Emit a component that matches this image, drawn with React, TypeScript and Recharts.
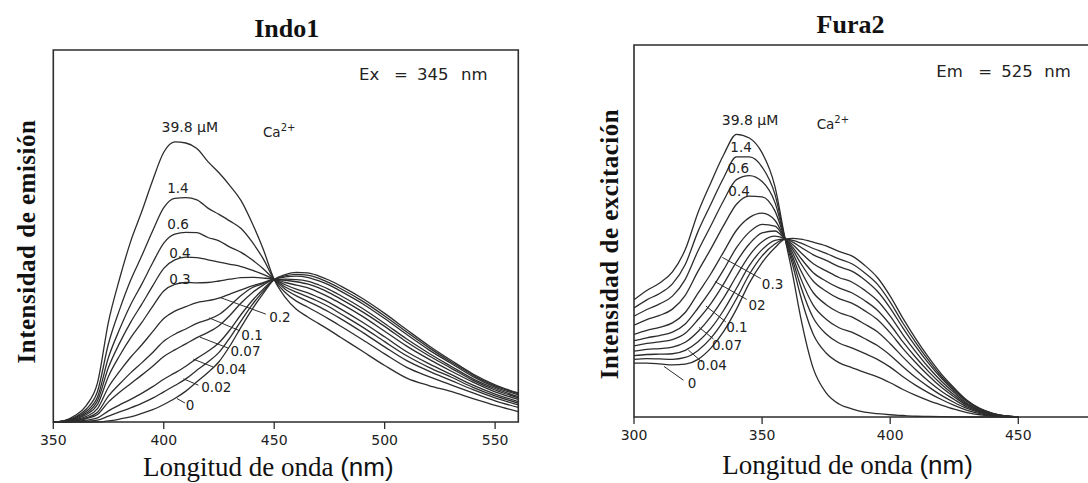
import React from 'react';
import { LineChart, Line, XAxis, YAxis, ReferenceArea, ReferenceLine, ReferenceDot } from 'recharts';

// Indo-1 emission spectra, Ex = 345 nm (relative intensity, 0-100)
const indoWavelengths = [350, 355, 360, 365, 370, 375, 380, 385, 390, 395, 400, 405, 410, 415, 420, 425, 430, 435, 440, 445, 450, 455, 460, 465, 470, 475, 480, 490, 500, 510, 520, 530, 540, 550, 560.5];
const indoTicks = [350, 400, 450, 500, 550];

const indoCa398 = [0, 0.4, 1.8, 4.5, 10.5, 27, 38.5, 48.5, 56.5, 65, 72.5, 75.3, 75, 73.5, 70, 67, 63.5, 59.5, 53.5, 46.5, 38.3, 33.5, 30.3, 28.3, 26.5, 24.7, 22.8, 19, 15.2, 11.8, 9.8, 8.2, 6.3, 4.5, 2.8];
const indoCa14 = [0, 0.3, 1.4, 3.5, 8.2, 21.1, 30.2, 38.1, 44.6, 51.4, 57.6, 60.1, 60.3, 59.7, 57.5, 55.8, 54, 52, 48.4, 43.9, 38.3, 34.8, 32.5, 30.9, 29.3, 27.6, 25.8, 22.1, 18.3, 14.7, 12.2, 10, 7.8, 5.7, 3.9];
const indoCa06 = [0, 0.3, 1.2, 2.9, 6.7, 17.4, 24.9, 31.5, 37, 42.8, 48.1, 50.5, 51, 50.9, 49.6, 48.7, 47, 45.6, 43.6, 41.2, 38.3, 35.7, 33.9, 32.5, 31.1, 29.5, 27.8, 24.1, 20.2, 16.5, 13.7, 11.2, 8.7, 6.5, 4.6];
const indoCa04 = [0, 0.2, 1, 2.4, 5.7, 14.7, 21.2, 26.8, 31.6, 36.6, 41.3, 43.6, 44.3, 44.2, 43.6, 43, 42.4, 41.8, 40.8, 39.7, 38.3, 36.3, 34.9, 33.7, 32.4, 30.9, 29.1, 25.5, 21.6, 17.8, 14.7, 12.1, 9.3, 7, 5.1];
const indoCa03 = [0, 0.2, 0.8, 2, 4.7, 12.3, 17.8, 22.6, 26.7, 31.1, 35.2, 37, 37.5, 37.4, 37.5, 37.9, 38.4, 38.8, 38.9, 38.7, 38.3, 36.9, 35.7, 34.8, 33.5, 32.1, 30.4, 26.8, 22.9, 18.9, 15.7, 12.8, 9.9, 7.5, 5.5];
const indoCa02 = [0, 0.1, 0.6, 1.5, 3.6, 9.4, 13.6, 17.4, 20.7, 24.3, 27.8, 29.8, 31, 32.1, 32.6, 33.3, 34.4, 35.5, 36.6, 37.5, 38.3, 37.5, 36.8, 36.1, 34.9, 33.5, 31.9, 28.4, 24.4, 20.4, 16.9, 13.7, 10.7, 8.1, 6.1];
const indoCa01 = [0, 0.1, 0.5, 1.1, 2.6, 7, 10.2, 13.2, 15.9, 18.7, 21.7, 23.6, 25, 26.5, 27.5, 28.9, 31.3, 34, 36.1, 37.2, 38.3, 38.1, 37.7, 37.1, 36.1, 34.7, 33.1, 29.6, 25.7, 21.5, 17.8, 14.5, 11.2, 8.6, 6.5];
const indoCa007 = [0, 0.1, 0.3, 0.9, 2, 5.4, 8, 10.3, 12.6, 15, 17.6, 19.4, 21, 22.7, 24.1, 25.9, 28.7, 32, 34.7, 36.8, 38.3, 38.4, 38.3, 37.9, 36.9, 35.6, 34, 30.5, 26.5, 22.3, 18.5, 15, 11.6, 9, 6.8];
const indoCa004 = [0, 0, 0.2, 0.5, 1.1, 3, 4.6, 6.1, 7.7, 9.5, 11.5, 13.2, 15, 17.1, 19, 21.3, 24.8, 28.9, 32.6, 35.7, 38.3, 39, 39.2, 38.9, 38, 36.8, 35.2, 31.8, 27.8, 23.5, 19.4, 15.8, 12.2, 9.4, 7.3];
const indoCa002 = [0, 0, 0.1, 0.2, 0.5, 1.6, 2.7, 3.8, 5, 6.4, 8.1, 9.8, 11.6, 13.9, 16.1, 18.7, 22.7, 27.2, 31.5, 35.1, 38.3, 39.3, 39.7, 39.5, 38.7, 37.4, 35.9, 32.5, 28.5, 24.2, 20, 16.2, 12.6, 9.7, 7.6];
const indoCa0 = [0, 0, 0, 0, 0, 0.3, 0.8, 1.4, 2.3, 3.3, 4.7, 6.3, 8.3, 10.8, 13.3, 16.2, 20.5, 25.5, 30.3, 34.5, 38.3, 39.6, 40.2, 40.1, 39.3, 38.1, 36.6, 33.2, 29.2, 24.8, 20.5, 16.6, 12.9, 10, 7.8];

// Fura-2 excitation spectra, Em = 525 nm
const furaWavelengths = [300, 305, 310, 315, 320, 325, 330, 335, 340, 345, 350, 355, 359, 362, 365, 370, 375, 380, 385, 390, 395, 400, 405, 410, 415, 420, 425, 430, 435, 440, 445, 450];
const furaTicks = [300, 350, 400, 450];

const furaCa398 = [31.5, 34, 36, 39, 45, 55, 63, 70.5, 76, 75, 71, 62, 47.8, 38, 27, 13, 6.5, 3.5, 2.2, 1.3, 0.9, 0.6, 0.4, 0.2, 0.15, 0.1, 0.05, 0, 0, 0, 0, 0];
const furaCa14 = [29.3, 31.5, 33.2, 35.8, 41, 49.9, 57.2, 64.3, 69.9, 69.9, 67.2, 59.9, 47.8, 40.7, 32.6, 22.2, 17.2, 14.6, 13.3, 12, 10.8, 9.2, 7.4, 5.8, 4.4, 3.2, 2.1, 1.2, 0.6, 0.3, 0.1, 0];
const furaCa06 = [27.1, 28.9, 30.4, 32.5, 37, 44.7, 51.4, 58.2, 63.8, 64.9, 63.3, 57.7, 47.8, 42, 35.3, 26.6, 22.3, 19.9, 18.6, 17.1, 15.5, 13.4, 10.8, 8.5, 6.5, 4.7, 3.1, 1.8, 0.9, 0.4, 0.1, 0];
const furaCa04 = [24.7, 26.2, 27.3, 29, 32.7, 39.2, 45.2, 51.5, 57.2, 59.4, 59.2, 55.4, 47.8, 43, 37.4, 30, 26.3, 24, 22.8, 21.1, 19.2, 16.6, 13.5, 10.6, 8.1, 5.8, 3.9, 2.3, 1.2, 0.5, 0.2, 0];
const furaCa03 = [22.2, 23.3, 24.1, 25.3, 28.1, 33.3, 38.5, 44.4, 50.2, 53.6, 54.8, 52.9, 47.8, 44, 39.5, 33.4, 30.2, 28.1, 26.9, 25, 22.9, 19.7, 16.1, 12.7, 9.6, 6.9, 4.7, 2.7, 1.4, 0.6, 0.2, 0];
const furaCa02 = [20.5, 21.3, 21.9, 22.8, 25, 29.3, 34.1, 39.6, 45.5, 49.7, 51.8, 51.3, 47.8, 44.9, 41.4, 36.5, 33.8, 31.8, 30.6, 28.6, 26.2, 22.6, 18.4, 14.6, 11.1, 8, 5.4, 3.1, 1.6, 0.7, 0.2, 0];
const furaCa01 = [19.1, 19.8, 20.2, 20.8, 22.5, 26.2, 30.5, 35.8, 41.7, 46.5, 49.5, 50, 47.8, 45.6, 42.8, 38.8, 36.5, 34.7, 33.4, 31.3, 28.7, 24.8, 20.2, 16, 12.2, 8.8, 5.9, 3.4, 1.7, 0.8, 0.2, 0];
const furaCa007 = [17.7, 18.2, 18.4, 18.8, 20.1, 23, 27, 32, 37.9, 43.4, 47.1, 48.6, 47.8, 46.3, 44.3, 41.2, 39.3, 37.5, 36.3, 34.1, 31.3, 27.1, 22.1, 17.5, 13.3, 9.6, 6.5, 3.7, 1.9, 0.8, 0.2, 0];
const furaCa004 = [16.5, 16.8, 16.9, 17, 17.9, 20.2, 23.8, 28.7, 34.6, 40.7, 45, 47.5, 47.8, 47, 45.7, 43.6, 42.1, 40.4, 39.2, 36.9, 33.8, 29.3, 23.9, 18.9, 14.4, 10.4, 7, 4.1, 2.1, 0.9, 0.3, 0];
const furaCa002 = [15.5, 15.7, 15.6, 15.5, 16, 17.9, 21.2, 25.9, 31.8, 38.3, 43.3, 46.5, 47.8, 47.5, 46.8, 45.3, 44, 42.5, 41.2, 38.8, 35.7, 30.9, 25.2, 20, 15.2, 10.9, 7.4, 4.3, 2.2, 1, 0.3, 0];
const furaCa0 = [14.5, 14.5, 14.3, 14, 14.2, 15.5, 18.5, 23, 29, 36, 41.5, 45.5, 47.8, 48, 47.8, 47, 46, 44.5, 43.3, 40.8, 37.5, 32.5, 26.5, 21, 16, 11.5, 7.8, 4.5, 2.3, 1, 0.3, 0];

const indoSeries = [
  { key: 'c398', values: indoCa398 }, { key: 'c14', values: indoCa14 }, { key: 'c06', values: indoCa06 },
  { key: 'c04', values: indoCa04 }, { key: 'c03', values: indoCa03 }, { key: 'c02', values: indoCa02 },
  { key: 'c01', values: indoCa01 }, { key: 'c007', values: indoCa007 }, { key: 'c004', values: indoCa004 },
  { key: 'c002', values: indoCa002 }, { key: 'c0', values: indoCa0 },
];
const furaSeries = [
  { key: 'c398', values: furaCa398 }, { key: 'c14', values: furaCa14 }, { key: 'c06', values: furaCa06 },
  { key: 'c04', values: furaCa04 }, { key: 'c03', values: furaCa03 }, { key: 'c02', values: furaCa02 },
  { key: 'c01', values: furaCa01 }, { key: 'c007', values: furaCa007 }, { key: 'c004', values: furaCa004 },
  { key: 'c002', values: furaCa002 }, { key: 'c0', values: furaCa0 },
];

// curve labels (text, wavelength, intensity) and leader lines
const indoLabels: [string, number, number][] = [
  ['1.4', 406.4, 62.9], ['0.6', 406.5, 53.2], ['0.4', 407.3, 45.3], ['0.3', 407.3, 38.4],
  ['0.2', 452.6, 28.2], ['0.1', 440, 23.4], ['0.07', 437, 19.1], ['0.04', 430.6, 14.2],
  ['0.02', 423.8, 9.4], ['0', 411.9, 4.6],
];
const indoLeaders: [number, number, number, number][] = [
  [425.4, 33.5, 446.2, 29], [420.5, 28, 434.5, 24.5], [416.4, 22.8, 429.5, 19.8],
  [413.4, 16.9, 422.3, 14.8], [408.9, 11.6, 415.7, 9.9], [406, 6.3, 409.6, 5.1],
];
const furaLabels: [string, number, number][] = [
  ['1.4', 341.8, 72.4], ['0.6', 340.7, 66.9], ['0.4', 341, 60.6], ['0.3', 354.1, 35.6],
  ['02', 348, 30.1], ['0.1', 340.2, 24.2], ['0.07', 336.3, 19.4], ['0.04', 330.4, 14],
  ['0', 322.7, 9.1],
];
const furaLeaders: [number, number, number, number][] = [
  [334.5, 42.9, 349.5, 37.2], [331.6, 36.4, 344, 31.6], [328.1, 29.8, 335.8, 25.6],
  [325.4, 24.1, 331, 21], [321.2, 18, 326.5, 14.8], [311.7, 13.6, 319.3, 9.9],
];

const ink = '#2d2d2d';
const sans = 'DejaVu Sans';
const serif = 'Liberation Serif';

const buildRows = (wl: number[], series: { key: string; values: number[] }[]) =>
  wl.map((nm, i) => {
    const row: Record<string, number> = { nm };
    series.forEach((s) => { row[s.key] = s.values[i]; });
    return row;
  });

const note = (text: string, size = 13.5) =>
  (p: any) => (
    <text x={p.cx} y={p.cy} dy="0.35em" textAnchor="middle" fontFamily={sans} fontSize={size} fill="#222">
      {text}
    </text>
  );

const caNote = (p: any) => (
  <text x={p.cx} y={p.cy} fontFamily={sans} fontSize={13.5} fill="#222">
    Ca<tspan dy={-6} fontSize={10}>2+</tspan>
  </text>
);

// "Ex = 345 nm" style: words laid out with the wide gaps of the original
const condNote = (words: [string, number][]) =>
  (p: any) => (
    <text y={p.cy} fontFamily={sans} fontSize={16.5} fill="#222">
      {words.map(([w, dx]) => (
        <tspan key={w} x={p.cx + dx}>{w}</tspan>
      ))}
    </text>
  );

type PanelProps = {
  wl: number[];
  series: { key: string; values: number[] }[];
  domain: [number, number];
  ticks: number[];
  width: number;
  margin: { top: number; right: number; bottom: number; left: number };
  labels: [string, number, number][];
  leaders: [number, number, number, number][];
  conc: [number, number];
  ca: [number, number];
  cond: { x: number; y: number; words: [string, number][] };
};

function SpectraPanel(props: PanelProps) {
  const { wl, series, domain, ticks, width, margin, labels, leaders, conc, ca, cond } = props;
  const data = buildRows(wl, series);
  return (
    <LineChart width={width} height={483} data={data} margin={margin}>
      <XAxis dataKey="nm" type="number" domain={domain} ticks={ticks} interval={0} allowDataOverflow
        height={30} axisLine={false} tickSize={7} tickMargin={6}
        tickLine={{ stroke: ink, strokeWidth: 1.3 }}
        tick={{ fill: '#222', fontSize: 14, fontFamily: sans }} />
      <YAxis type="number" domain={[0, 100]} hide />
      <ReferenceArea x1={domain[0]} x2={domain[1]} y1={0} y2={100} fill="none" stroke={ink} strokeWidth={1.6} fillOpacity={0} />
      {series.map((s) => (
        <Line key={s.key} dataKey={s.key} type="monotone" stroke={ink} strokeWidth={1.3}
          dot={false} activeDot={false} isAnimationActive={false} />
      ))}
      {leaders.map((l, i) => (
        <ReferenceLine key={'ld' + i} segment={[{ x: l[0], y: l[1] }, { x: l[2], y: l[3] }]} stroke={ink} strokeWidth={1} />
      ))}
      {labels.map(([t, x, y]) => (
        <ReferenceDot key={'lb' + t} x={x} y={y} r={0} shape={note(t)} />
      ))}
      <ReferenceDot x={conc[0]} y={conc[1]} r={0} shape={note('39.8 \u00b5M', 14)} />
      <ReferenceDot x={ca[0]} y={ca[1]} r={0} shape={caNote} />
      <ReferenceDot x={cond.x} y={cond.y} r={0} shape={condNote(cond.words)} />
    </LineChart>
  );
}

export default function App() {
  return (
    <div style={{ position: 'absolute', left: 0, top: 0, width: 1088, height: 483, overflow: 'hidden', background: '#fff' }}>
      <div style={{ position: 'absolute', left: 0, top: 0 }}>
        <SpectraPanel wl={indoWavelengths} series={indoSeries} domain={[350, 560.5]} ticks={indoTicks}
          width={544} margin={{ top: 50, right: 25.7, bottom: 31, left: 53.3 }}
          labels={indoLabels} leaders={indoLeaders}
          conc={[411.8, 79.3]} ca={[444.9, 76.7]}
          cond={{ x: 488.4, y: 91.9, words: [['Ex', 0], ['=', 35], ['345', 58], ['nm', 102]] }} />
      </div>
      <div style={{ position: 'absolute', left: 544, top: 0 }}>
        <SpectraPanel wl={furaWavelengths} series={furaSeries} domain={[300, 477.6]} ticks={furaTicks}
          width={560} margin={{ top: 45, right: 15, bottom: 36, left: 90 }}
          labels={furaLabels} leaders={furaLeaders}
          conc={[345.3, 79.8]} ca={[371.3, 77.3]}
          cond={{ x: 418, y: 91.5, words: [['Em', 0], ['=', 42], ['525', 65], ['nm', 108]] }} />
      </div>
      <svg width={1088} height={483} style={{ position: 'absolute', left: 0, top: 0, pointerEvents: 'none' }}>
        <text x={286.7} y={36.7} textAnchor="middle" fontFamily={serif} fontWeight="bold" fontSize={26} fill="#111">Indo1</text>
        <text x={850.5} y={33.3} textAnchor="middle" fontFamily={serif} fontWeight="bold" fontSize={26} fill="#111">Fura2</text>
        <text transform="translate(34.5,241.5) rotate(-90)" textAnchor="middle" fontFamily={serif} fontWeight="bold"
          fontSize={25} letterSpacing={0.5} fill="#111">
          Intensidad de emisión
        </text>
        <text transform="translate(618,244) rotate(-90)" textAnchor="middle" fontFamily={serif} fontWeight="bold"
          fontSize={25} letterSpacing={0.5} fill="#111">
          Intensidad de excitación
        </text>
        <text x={268.3} y={476} textAnchor="middle" fontFamily={serif} fontSize={27} fill="#111">
          Longitud de onda <tspan fontFamily="Liberation Sans" fontSize={26}>(nm)</tspan>
        </text>
        <text x={847.5} y={474} textAnchor="middle" fontFamily={serif} fontSize={27} fill="#111">
          Longitud de onda <tspan fontFamily="Liberation Sans" fontSize={26}>(nm)</tspan>
        </text>
      </svg>
    </div>
  );
}
